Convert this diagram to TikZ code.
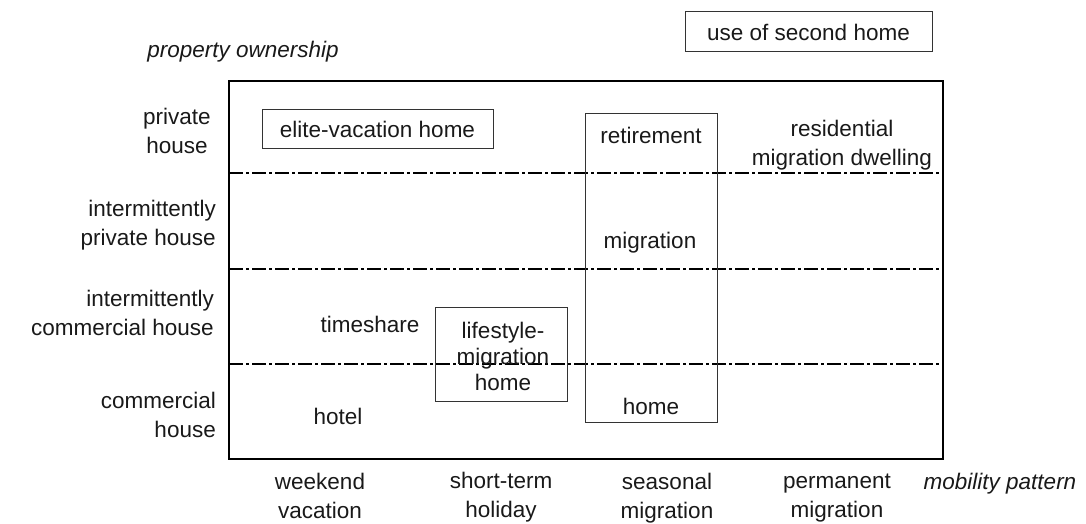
\documentclass[tikz,border=0pt]{standalone}
\usepackage{fontspec}
\setmainfont{Liberation Sans}
\tikzset{
  lbl/.style={font=\fontsize{22.5}{29}\selectfont, text=black!90, align=center, inner sep=0pt},
  axislbl/.style={lbl, font=\fontsize{22.5}{29}\selectfont\itshape},
  rowlbl/.style={lbl, align=right, anchor=east},
  thinbox/.style={draw=black!80, line width=1pt},
  divider/.style={line width=2pt, dash pattern=on 14pt off 3pt on 3pt off 3pt}
}
\begin{document}
\begin{tikzpicture}[x=1pt,y=-1pt]
\useasboundingbox (0,0) rectangle (1086,524);
% frame and row dividers
\draw[line width=2.6pt] (229,81) rectangle (943,459);
\draw[divider] (229,173) -- (943,173);
\draw[divider] (229,269) -- (943,269);
\draw[divider] (229,364) -- (943,364);
% axis titles
\node[axislbl] (own) at (243,52) {property ownership};
\node[axislbl] (mob) at (1000,484) {mobility pattern};
\node[lbl, thinbox, minimum width=247, minimum height=40] (use) at (808.5,32) {use of second home};
% rows
\node[lbl] (priv) at (177,131) {private\\house};
\node[rowlbl] (ipriv) at (216,225) {intermittently\\private house};
\node[rowlbl] (icom) at (214,313) {intermittently\\commercial house};
\node[rowlbl] (com) at (216,415) {commercial\\house};
% columns
\node[lbl] (wkd) at (320,496) {weekend\\vacation};
\node[lbl] (short) at (501,497) {short-term\\holiday};
\node[lbl] (seas) at (667,498) {seasonal\\migration};
\node[lbl] (perm) at (837,498) {permanent\\migration};
% cells
\node[lbl, thinbox, minimum width=231, minimum height=38] (elite) at (377.5,129) {elite-vacation home};
\draw[thinbox] (585,114) rectangle (717,422);
\node[lbl] (ret) at (651,135) {retirement};
\node[lbl] (mig) at (650,243) {migration};
\node[lbl] (rhome) at (651,406) {home};
\node[lbl] (resid) at (842,145) {residential\\migration dwelling};
\node[lbl] (tshare) at (370,324) {timeshare};
\node[lbl] (hotel) at (338,416) {hotel};
\draw[thinbox] (435,307) rectangle (567,401);
\node[lbl, font=\fontsize{22.5}{26}\selectfont] (life) at (503,356) {lifestyle-\\migration\\home};
\end{tikzpicture}
\end{document}
